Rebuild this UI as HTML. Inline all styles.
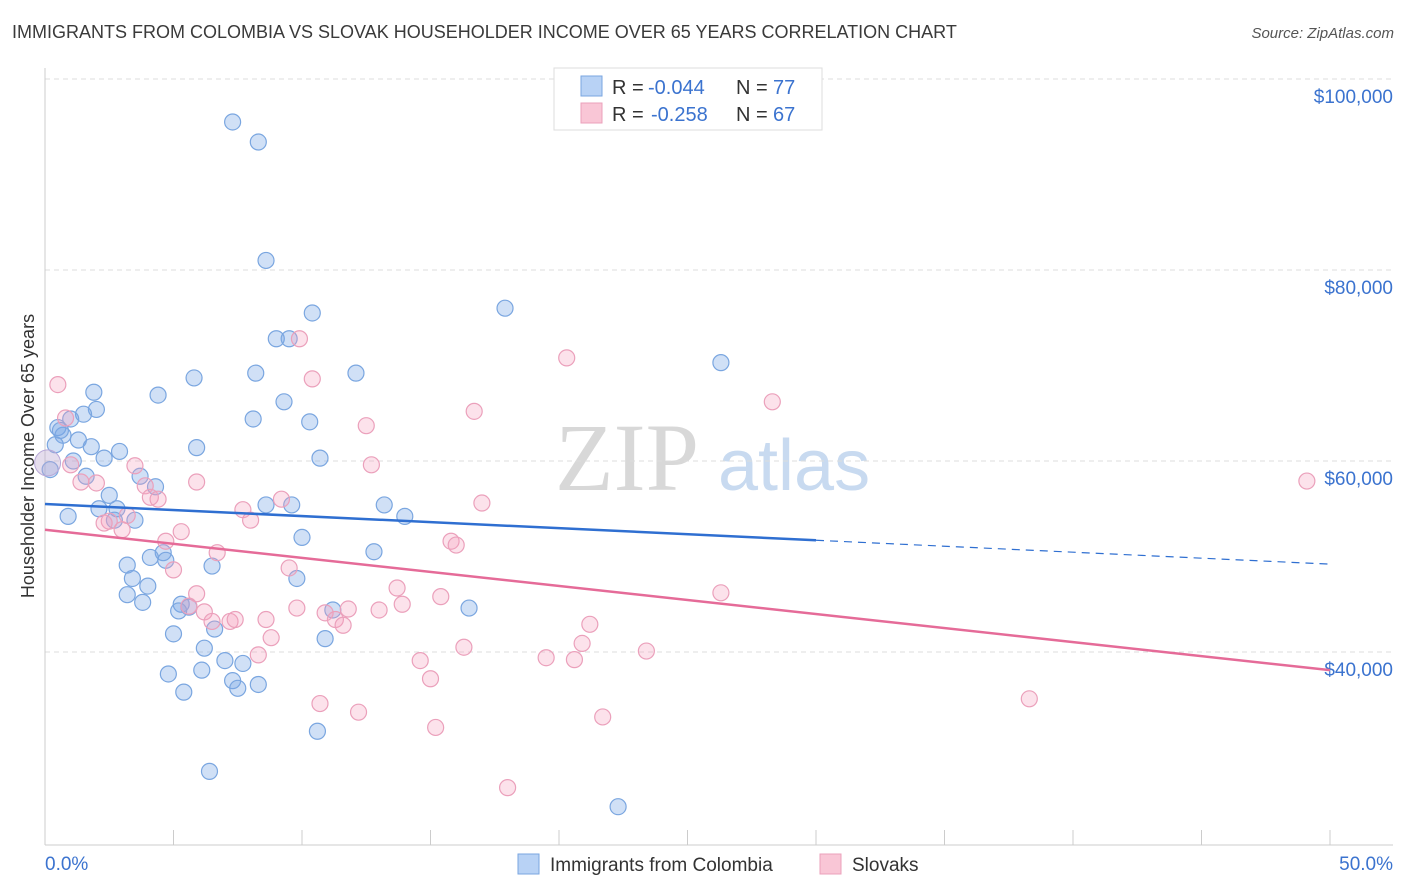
<!DOCTYPE html>
<html><head><meta charset="utf-8"><style>
body{margin:0;background:#fff;font-family:"Liberation Sans",sans-serif;}
#wrap{position:relative;width:1406px;height:892px;overflow:hidden;}
.title{position:absolute;left:12px;top:22px;font-size:18px;color:#3a3a3a;}
.src{position:absolute;right:12px;top:25px;font-size:15px;font-style:italic;color:#555;}
</style></head><body>
<div id="wrap">
<div class="title">IMMIGRANTS FROM COLOMBIA VS SLOVAK HOUSEHOLDER INCOME OVER 65 YEARS CORRELATION CHART</div>
<div class="src">Source: ZipAtlas.com</div>
<svg id="plot" width="1406" height="892" style="position:absolute;left:0;top:0"></svg>
</div>
<script>
const blueX=[7.3,8.3,8.6,10.4,17.9,9.0,9.5,26.3,8.2,12.1,5.8,1.9,4.4,2.0,1.5,1.0,8.1,10.3,9.3,0.5,0.7,1.3,1.8,5.9,2.9,2.3,1.1,10.7,0.2,1.6,3.7,4.3,2.5,8.6,9.6,13.2,14.0,0.9,2.1,2.8,10.0,12.8,4.6,4.1,4.7,3.2,6.5,3.4,9.8,4.0,3.2,3.8,5.3,5.6,5.2,11.2,16.5,6.6,5.0,10.9,6.2,7.0,7.7,4.8,6.1,7.3,8.3,7.5,5.4,10.6,6.4,22.3,0.6,2.7,0.4,3.5];
const blueY=[95.5,93.4,81.0,75.5,76.0,72.8,72.8,70.3,69.2,69.2,68.7,67.2,66.9,65.4,64.9,64.4,64.4,64.1,66.2,63.5,62.7,62.2,61.5,61.4,61.0,60.3,60.0,60.3,59.1,58.4,58.4,57.3,56.4,55.4,55.4,55.4,54.2,54.2,55.0,55.0,52.0,50.5,50.4,49.9,49.6,49.1,49.0,47.7,47.7,46.9,46.0,45.2,45.0,44.7,44.3,44.4,44.6,42.4,41.9,41.4,40.4,39.1,38.8,37.7,38.1,37.0,36.6,36.2,35.8,31.7,27.5,23.8,63.2,53.8,61.7,53.8];
const pinkX=[0.5,0.8,9.9,10.4,20.3,16.7,28.3,12.5,12.7,3.5,1.0,1.4,2.0,3.9,4.1,4.4,9.2,17.0,7.7,8.0,3.2,2.5,2.3,3.0,5.3,4.7,15.8,16.0,6.7,5.0,9.5,13.7,15.4,5.9,5.6,6.2,6.5,7.2,7.4,9.8,10.9,11.8,13.0,13.9,11.3,11.6,21.2,8.6,8.8,26.3,20.9,16.3,23.4,8.3,19.5,20.6,14.6,15.0,10.7,12.2,21.7,15.2,38.3,18.0,49.1,5.9];
const pinkY=[68.0,64.5,72.8,68.6,70.8,65.2,66.2,63.7,59.6,59.5,59.6,57.8,57.7,57.4,56.2,56.0,56.0,55.6,54.9,53.8,54.3,53.7,53.5,52.8,52.6,51.6,51.6,51.2,50.4,48.6,48.8,46.7,45.8,46.1,44.8,44.2,43.2,43.2,43.4,44.6,44.1,44.5,44.4,45.0,43.4,42.8,42.9,43.4,41.5,46.2,40.9,40.5,40.1,39.7,39.4,39.2,39.1,37.2,34.6,33.7,33.2,32.1,35.1,25.8,57.9,57.8];
const blueTrend=[55.5,51.7,49.2]; // at x=0,30,50
const pinkTrend=[52.8,38.1];      // at x=0,50
const yTicks=[100,80,60,40];
const yTickLabels=["$100,000","$80,000","$60,000","$40,000"];
const xTicks=[0,5,10,15,20,25,30,35,40,45,50];

const NS="http://www.w3.org/2000/svg", svg=document.getElementById('plot');
const sx=v=>45+v*25.7, sy=v=>79+(100-v)*9.55;
function mk(t,a,p){const e=document.createElementNS(NS,t);for(const k in a)e.setAttribute(k,a[k]);(p||svg).appendChild(e);return e;}
// watermark
let w=mk('text',{x:555,y:490,'font-size':96,'font-family':'Liberation Serif',fill:'#d8d8d8'});w.textContent='ZIP';

w=mk('text',{x:718,y:490,'font-size':72,fill:'#c8daf0'});w.textContent='atlas';

yTicks.forEach((v,i)=>{
 const g=mk('line',{x1:45,x2:1393,y1:sy(v),y2:sy(v),stroke:'#ddd','stroke-dasharray':'5,4'});
 
 const t=mk('text',{x:1393,y:sy(v)+24,'text-anchor':'end','font-size':19,fill:'#3b73cf'});t.textContent=yTickLabels[i];
 
});
let ax=mk('line',{x1:45,x2:45,y1:68,y2:845,stroke:'#ccc'});
ax=mk('line',{x1:45,x2:1393,y1:845,y2:845,stroke:'#ccc'});
xTicks.forEach(v=>{const l=mk('line',{x1:sx(v),x2:sx(v),y1:830,y2:845,stroke:'#ccc'});});
let t=mk('text',{x:45,y:870,'font-size':19,fill:'#3b73cf'});t.textContent='0.0%';
t=mk('text',{x:1393,y:870,'text-anchor':'end','font-size':19,fill:'#3b73cf'});t.textContent='50.0%';
t=mk('text',{x:34,y:456,'text-anchor':'middle','font-size':18,fill:'#333',transform:'rotate(-90 34 456)'});t.textContent='Householder Income Over 65 years';

function pts(xs,ys,fill,stroke,name){xs.forEach((x,i)=>{const c=mk('circle',{cx:sx(x),cy:sy(ys[i]),r:8,fill:fill,stroke:stroke,'stroke-width':1.2});
 });}
pts(blueX,blueY,'rgba(120,165,230,0.35)','#7aa6e0','colombia-point');
pts(pinkX,pinkY,'rgba(245,160,190,0.3)','#eba0bb','slovak-point');
let big=mk('circle',{cx:sx(0.1),cy:sy(59.8),r:13,fill:'rgba(190,170,210,0.4)',stroke:'#b8a8d8'});
let l=mk('line',{x1:sx(0),y1:sy(blueTrend[0]),x2:sx(30),y2:sy(blueTrend[1]),stroke:'#2f6fd1','stroke-width':2.5});
l=mk('line',{x1:sx(30),y1:sy(blueTrend[1]),x2:sx(50),y2:sy(blueTrend[2]),stroke:'#2f6fd1','stroke-width':1.2,'stroke-dasharray':'8,6'});
l=mk('line',{x1:sx(0),y1:sy(pinkTrend[0]),x2:sx(50),y2:sy(pinkTrend[1]),stroke:'#e56b98','stroke-width':2.5});
// legend box
const lg=mk('g',{});
mk('rect',{x:554,y:68,width:268,height:62,fill:'#fff',stroke:'#ddd'},lg);
mk('rect',{x:581,y:76,width:21,height:20,fill:'#b8d2f5',stroke:'#7aa6e0'},lg);
mk('rect',{x:581,y:103,width:21,height:20,fill:'#f9c6d6',stroke:'#eba0bb'},lg);
function lt(x,y,s,c){const e=mk('text',{x:x,y:y,'font-size':20,fill:c},lg);e.textContent=s;}
lt(612,94,'R =','#333');lt(648,94,'-0.044','#3b73cf');lt(736,94,'N =','#333');lt(773,94,'77','#3b73cf');
lt(612,121,'R =','#333');lt(651,121,'-0.258','#3b73cf');lt(736,121,'N =','#333');lt(773,121,'67','#3b73cf');
// bottom legend
const bl=mk('g',{});
mk('rect',{x:518,y:854,width:21,height:20,fill:'#b8d2f5',stroke:'#7aa6e0'},bl);
let e=mk('text',{x:550,y:871,'font-size':19,fill:'#333'},bl);e.textContent='Immigrants from Colombia';
mk('rect',{x:820,y:854,width:21,height:20,fill:'#f9c6d6',stroke:'#eba0bb'},bl);
e=mk('text',{x:852,y:871,'font-size':19,fill:'#333'},bl);e.textContent='Slovaks';
</script>
</body></html>
